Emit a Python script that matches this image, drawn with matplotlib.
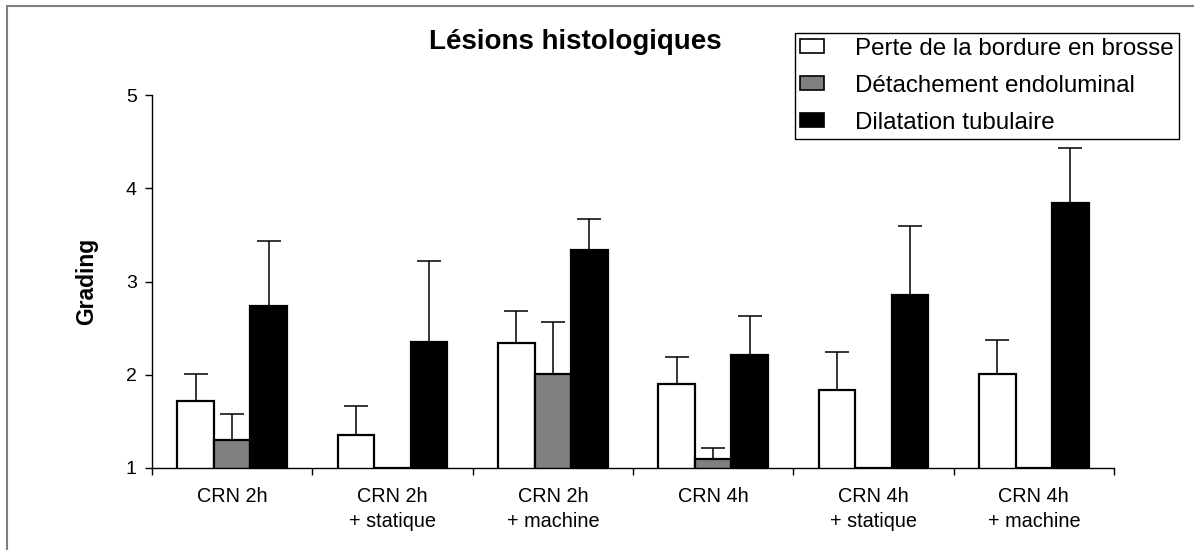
import matplotlib
matplotlib.use("Agg")
import matplotlib.pyplot as plt
from matplotlib.patches import Rectangle, Patch
import numpy as np

plt.rcParams['font.family'] = ['Liberation Sans', 'DejaVu Sans']

categories = ["CRN 2h", "CRN 2h\n+ statique", "CRN 2h\n+ machine",
              "CRN 4h", "CRN 4h\n+ statique", "CRN 4h\n+ machine"]
series_names = ["Perte de la bordure en brosse", "Détachement endoluminal", "Dilatation tubulaire"]
perte = [1.72, 1.35, 2.34, 1.90, 1.84, 2.01]
perte_top = [2.01, 1.66, 2.68, 2.19, 2.24, 2.37]
detach = [1.30, 1.00, 2.01, 1.10, 1.00, 1.00]
detach_top = [1.58, np.nan, 2.57, 1.21, np.nan, np.nan]
dilat = [2.74, 2.35, 3.34, 2.21, 2.85, 3.84]
dilat_top = [3.43, 3.22, 3.67, 2.63, 3.59, 4.43]
yticks = [1, 2, 3, 4, 5]

fig = plt.figure(figsize=(11.94, 5.5), dpi=100)
ax = fig.add_axes([152/1194, 1-468/550, (1114-152)/1194, (468-95)/550])

# outer frame
fig.patches.append(Rectangle((7/1194, -0.1), 1.2, 1-6/550+0.1, transform=fig.transFigure,
                             fill=False, edgecolor='#808080', linewidth=1.5))

n = len(categories)
centers = np.arange(n) + 0.5
w = 0.228
colors = ['white', '#808080', 'black']
vals = [perte, detach, dilat]
tops = [perte_top, detach_top, dilat_top]
for k in range(3):
    xs = centers + (k - 1) * w
    v = np.array(vals[k], dtype=float)
    t = np.array(tops[k], dtype=float)
    ax.bar(xs, v, width=w, color=colors[k], edgecolor='black', linewidth=1.6, zorder=2,
           label=series_names[k])
    up = t - v
    ax.errorbar(xs, v, yerr=[np.zeros(n), up], fmt='none', ecolor='black',
                elinewidth=1.1, capsize=8.5, capthick=1.1, zorder=3)

ax.set_ylim(1, 5)
ax.set_xlim(0, n)
ax.set_yticks(yticks)
ax.set_yticklabels([str(t) for t in yticks], fontsize=14)
ax.set_xticks(centers)
ax.set_xticklabels(categories, fontsize=14.3, linespacing=1.4)
ax.tick_params(axis='x', length=0, pad=13.5)
ax.set_xticks(np.arange(n + 1), minor=True)
ax.tick_params(axis='x', which='minor', length=5, direction='out', width=1)
ax.tick_params(axis='y', length=5, width=1, direction='out', pad=6)
for s in ['top', 'right']:
    ax.spines[s].set_visible(False)
ax.spines['left'].set_linewidth(1)
ax.spines['bottom'].set_linewidth(1)

ax.set_ylabel("Grading", fontsize=16.5, fontweight='bold', labelpad=20)

fig.text(575/1194, 1-42/550, "Lésions histologiques", fontsize=20, fontweight='bold',
         ha='center', va='center')

handles = [Patch(facecolor=c, edgecolor='black', linewidth=1.2) for c in colors]
leg = fig.legend(handles, series_names, loc='upper left',
                 bbox_to_anchor=(795/1194, 1-33/550), fontsize=17.4,
                 frameon=True, fancybox=False, edgecolor='black', framealpha=1,
                 handlelength=1.0, handleheight=0.5, handletextpad=1.3,
                 labelspacing=0.62, borderpad=0.2, borderaxespad=0)
leg.get_frame().set_linewidth(1)

fig.savefig("out.png", dpi=100)
